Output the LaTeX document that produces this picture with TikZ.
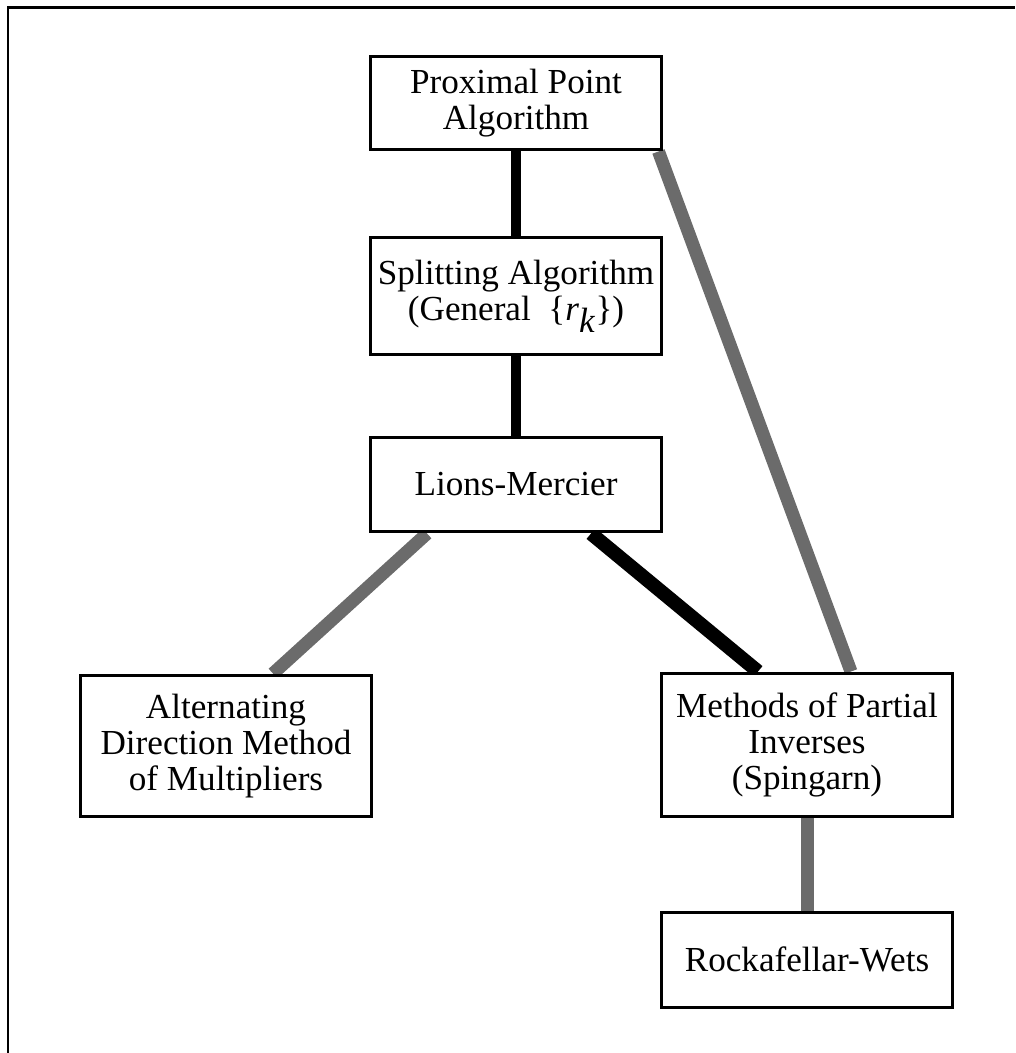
\documentclass[tikz,border=0pt]{standalone}
\usepackage{fontspec}
\setmainfont{Liberation Serif}
\usepackage{tikz}
\usetikzlibrary{backgrounds}
\newcommand{\rseq}{\{\textit{r}$_{\textit{k}}$\}}

\begin{document}
\begin{tikzpicture}[x=0.02cm,y=-0.02cm]
\tikzstyle{every node}=[font=\fontsize{20}{20.5}\selectfont]
\tikzstyle{algbox}=[draw,line width=0.06cm,fill=white,align=center,inner sep=0pt,minimum width=5.84cm]
\tikzstyle{strong}=[line width=0.2cm]
\tikzstyle{weak}=[line width=0.26cm,draw=black!58]
\useasboundingbox (0,0) rectangle (1015,1053);
\draw[line width=0.06cm] (8,1053) -- (8,8) -- (1015,8);
\node[algbox,minimum height=1.88cm] (ppa) at (516,103) {Proximal Point\\Algorithm};
\node[algbox,minimum height=2.36cm] (split) at (516,296) {Splitting Algorithm\\(General\ \ \rseq)};
\node[algbox,minimum height=1.9cm] (lm) at (516,484.5) {Lions-Mercier};
\node[algbox,minimum height=2.84cm] (admm) at (226,746) {Alternating\\Direction Method\\of Multipliers};
\node[algbox,minimum height=2.88cm] (mpi) at (807,745) {Methods of Partial\\Inverses\\(Spingarn)};
\node[algbox,minimum height=1.9cm] (rw) at (807,959.5) {Rockafellar-Wets};
\begin{scope}[on background layer]
\path (ppa) edge[strong] (split);
\path (split) edge[strong] (lm);
\path ([xshift=1.5cm]lm.south) edge[line width=0.28cm] ([xshift=-0.98cm]mpi.north);
\path ([xshift=-1.78cm]lm.south) edge[weak] ([xshift=0.94cm]admm.north);
\path ([xshift=-0.1cm]ppa.south east) edge[weak] ([xshift=0.88cm]mpi.north);
\path (mpi) edge[weak] (rw);
\end{scope}
\end{tikzpicture}
\end{document}
